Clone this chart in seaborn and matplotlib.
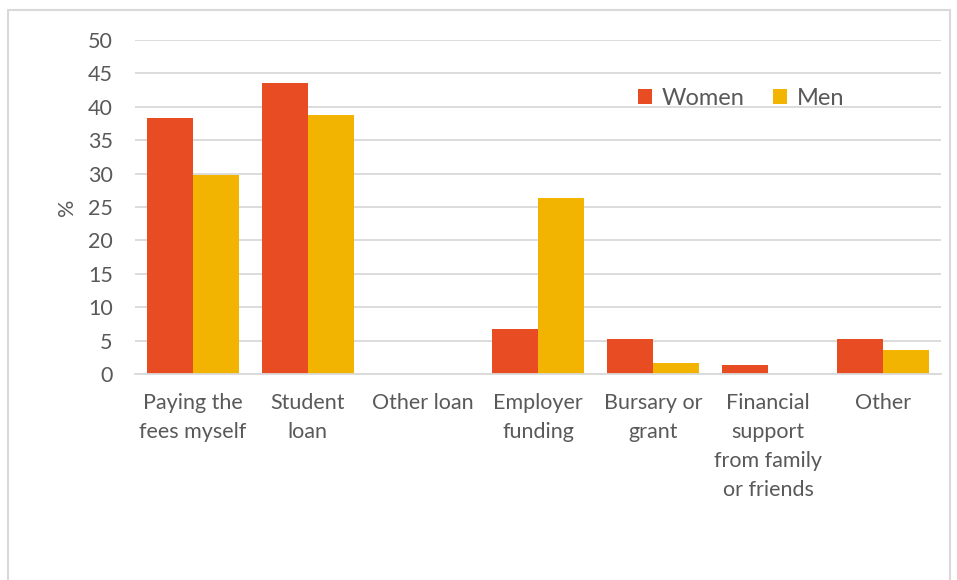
import matplotlib
matplotlib.use("Agg")
import matplotlib.pyplot as plt
import seaborn as sns
import pandas as pd
from matplotlib.lines import Line2D

categories = ["Paying the\nfees myself", "Student\nloan", "Other loan", "Employer\nfunding",
              "Bursary or\ngrant", "Financial\nsupport\nfrom family\nor friends", "Other"]
women = [38.3, 43.5, 0.0, 6.7, 5.2, 1.3, 5.2]
men = [29.8, 38.7, 0.0, 26.3, 1.7, 0.0, 3.6]
series = ["Women", "Men"]
colors = ["#E84C22", "#F2B400"]
yticks = [0, 5, 10, 15, 20, 25, 30, 35, 40, 45, 50]

df = pd.DataFrame({
    "category": categories * 2,
    "value": women + men,
    "series": ["Women"] * len(categories) + ["Men"] * len(categories),
})

sns.set_theme(style="white")
plt.rcParams['font.family'] = ['Lato', 'DejaVu Sans']
text_color = "#595959"

fig = plt.figure(figsize=(9.57, 5.8), dpi=100)
ax = fig.add_axes([135/957, 1 - 374/580, (941-135)/957, (374-40)/580])

sns.barplot(data=df, x="category", y="value", hue="series", hue_order=series,
            palette=colors, width=0.8, saturation=1, ax=ax, edgecolor="none")

ax.set_ylim(0, 50)
ax.set_yticks(yticks)
ax.yaxis.grid(True, color="#D9D9D9", linewidth=1.3)
ax.set_axisbelow(True)
for s in ["top", "right", "left"]:
    ax.spines[s].set_visible(False)
ax.spines["bottom"].set_color("#D9D9D9")
ax.spines["bottom"].set_linewidth(1.3)
ax.tick_params(axis="both", length=0, labelsize=15.5, colors=text_color)
ax.tick_params(axis="x", pad=14)
ax.tick_params(axis="y", pad=16)
ax.set_xlabel("")
ax.set_ylabel("%", fontsize=15.5, color=text_color, labelpad=8)
for lbl in ax.get_xticklabels():
    lbl.set_linespacing(1.55)

leg = ax.legend(loc="upper left", bbox_to_anchor=(0.598, 0.92), ncol=2, frameon=False,
                fontsize=17, handlelength=0.6, handleheight=0.6, handletextpad=0.4,
                columnspacing=1.2, labelcolor=text_color)

# figure border
bc = "#D9D9D9"
fig.add_artist(Line2D([8/957, 8/957], [0, 1 - 10/580], transform=fig.transFigure, color=bc, lw=1.5))
fig.add_artist(Line2D([8/957, 950/957], [1 - 10/580, 1 - 10/580], transform=fig.transFigure, color=bc, lw=1.5))
fig.add_artist(Line2D([950/957, 950/957], [0, 1 - 10/580], transform=fig.transFigure, color=bc, lw=1.5))

fig.savefig("out.png", dpi=100)
